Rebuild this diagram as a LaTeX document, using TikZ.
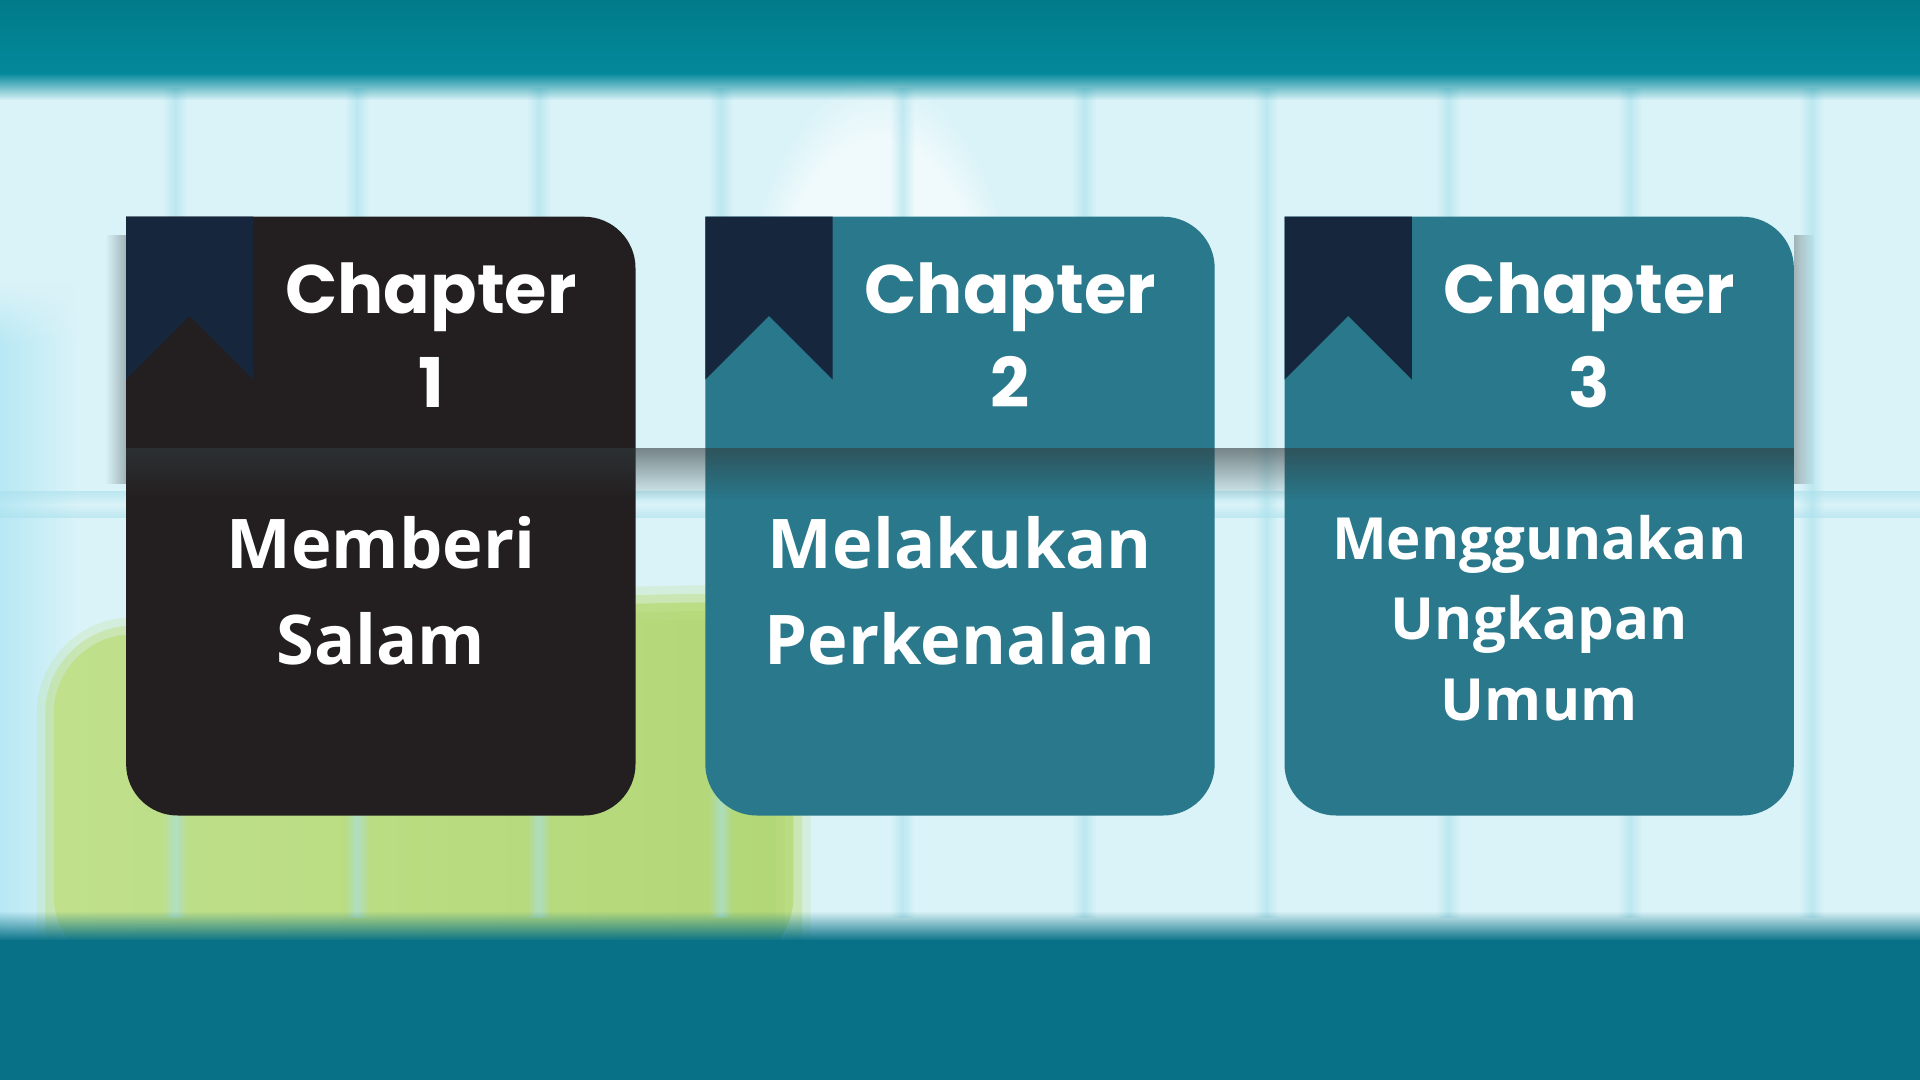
\documentclass[tikz,border=0pt]{standalone}
\usepackage{fontspec}
\usetikzlibrary{fadings}
\newfontfamily\chapfont{Poppins}
\setmainfont{Open Sans}
\definecolor{topa}{HTML}{007886}
\definecolor{topb}{HTML}{03899B}
\definecolor{wall}{HTML}{DAF3F8}
\definecolor{mullion}{HTML}{A9E0EC}
\definecolor{sidewall}{HTML}{B2E6F3}
\definecolor{floorband}{HTML}{087187}
\definecolor{darkcard}{HTML}{231F20}
\definecolor{tealcard}{HTML}{29788B}
\definecolor{ribbon}{HTML}{16263D}
\definecolor{shadowgray}{HTML}{323C3E}
\definecolor{bush}{HTML}{C0E08C}
\definecolor{bushb}{HTML}{B2D776}
% card: x, fill, name, number
\newcommand{\card}[4]{%
  \fill[#2] (#1,705) -- ++(374,0) arc[start angle=90,end angle=0,radius=42]
    -- ++(0,-405) arc[start angle=0,end angle=-90,radius=42]
    -- ++(-332,0) arc[start angle=270,end angle=180,radius=42] -- cycle;
  \fill[ribbon] (#1,705) -- ++(104,0) -- ++(0,-133) -- ++(-52,52) -- ++(-52,-52) -- cycle;
  \node[chaptitle] (#3) at (#1+249,549) {Chapter\\#4};
}

\begin{document}
\begin{tikzpicture}[
      x=1pt,y=1pt,
      chaptitle/.style={text=white, font=\chapfont\bfseries\fontsize{56}{77}\selectfont, align=center, inner sep=0pt, anchor=base},
      cardtext/.style={text=white, font=\bfseries\fontsize{56}{79}\selectfont, align=center, inner sep=0pt, anchor=base},
      smalltext/.style={cardtext, font=\bfseries\fontsize{47.5}{66}\selectfont},
      bushpath/.style={rounded corners=60},
      sideshade/.style={left color=sidewall, right color=wall}
      ]
      \useasboundingbox (0,0) rectangle (1568,882);
      % wall behind the window
      \fill[wall] (0,0) rectangle (1568,882);
      \fill[white, opacity=0.6, path fading=circle with fuzzy edge 20 percent] (718,560) ellipse [x radius=120, y radius=260];
      \shade[sideshade] (-10,110) rectangle (64,600);
      \shade[sideshade, path fading=north] (-10,600) rectangle (64,650);
      \shade[left color=bush, right color=bushb, bushpath] (44,90) -- (44,360) -- (520,390) -- (648,390) -- (648,90) -- cycle;
      \draw[bush, line width=28, draw opacity=0.25, bushpath] (44,90) -- (44,360) -- (520,390) -- (648,390) -- (648,90);
      \draw[bush, line width=14, draw opacity=0.5, bushpath] (44,90) -- (44,360) -- (520,390) -- (648,390) -- (648,90);
      \foreach \k in {0,...,9}{
        \fill[mullion, fill opacity=0.6, path fading=west] (143+148.5*\k-10,132) rectangle (143+148.5*\k,810);
        \fill[mullion, fill opacity=0.6, path fading=east] (143+148.5*\k,132) rectangle (143+148.5*\k+10,810);
      }
      \fill[mullion, fill opacity=0.6, path fading=north] (-10,459) rectangle (1578,470);
      \fill[mullion, fill opacity=0.6, path fading=south] (-10,470) rectangle (1578,481);
      % top and bottom bands
      \shade[top color=topa, bottom color=topb] (-10,892) rectangle (1578,822);
      \fill[topb, path fading=south] (-10,822.5) rectangle (1578,800);
      \fill[floorband] (-10,-10) rectangle (1578,114);
      \fill[floorband, path fading=north] (-10,113.5) rectangle (1578,138);
      % side shadows of the header strip
      \fill[shadowgray, fill opacity=0.35, path fading=west] (86,487) rectangle (103,690);
      \fill[shadowgray, fill opacity=0.35, path fading=east] (1465,487) rectangle (1482,690);
      % cards
      \card{103}{darkcard}{chap1}{1}
      \card{576}{tealcard}{chap2}{2}
      \card{1049}{tealcard}{chap3}{3}
      \fill[shadowgray, fill opacity=0.6, path fading=south] (103,516) rectangle (1465,474);
      \node[cardtext] (topic1) at (311,339) {Memberi\\Salam};
      \node[cardtext] (topic2) at (784,339) {Melakukan\\Perkenalan};
      \node[smalltext] (topic3) at (1257,293.4) {Menggunakan\\Ungkapan\\Umum};
\end{tikzpicture}
\end{document}
